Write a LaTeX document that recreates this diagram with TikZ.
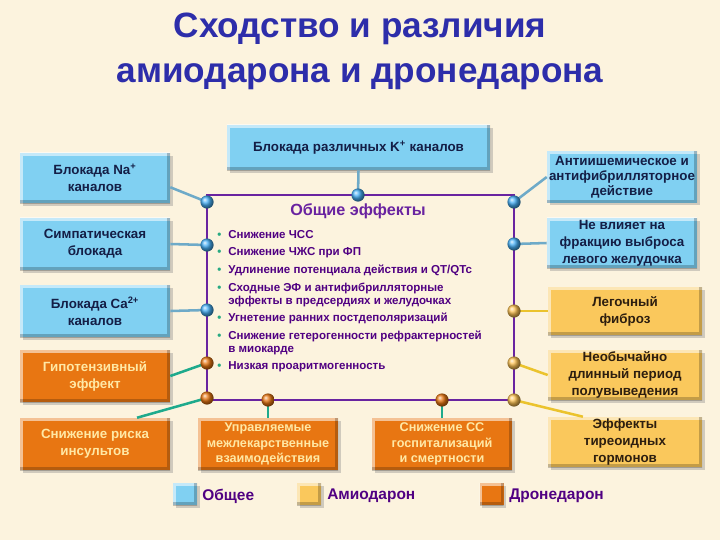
\documentclass[tikz,border=0pt]{standalone}
\usepackage{fontspec}
\setmainfont{Liberation Sans}
\usetikzlibrary{shadows}

\definecolor{bg}{RGB}{252,243,222}
\definecolor{titleblue}{RGB}{45,45,170}
\definecolor{boxblue}{RGB}{128,208,242}
\definecolor{boxorange}{RGB}{232,118,18}
\definecolor{boxamber}{RGB}{250,200,92}
\definecolor{dotblue}{RGB}{70,175,245}
\definecolor{txtnavy}{RGB}{20,30,70}
\definecolor{txtcream}{RGB}{255,232,165}
\definecolor{txtbrown}{RGB}{45,30,15}
\definecolor{txtpurple}{RGB}{80,0,130}
\definecolor{framepurple}{RGB}{105,35,160}
\definecolor{lnblue}{RGB}{110,170,200}
\definecolor{lnteal}{RGB}{30,170,140}
\definecolor{lnamber}{RGB}{235,195,45}
\definecolor{bulgreen}{RGB}{40,170,130}

\newcommand\effbul{\textcolor{bulgreen}{\textbullet}}

\tikzset{
  bevel/.style={path picture={
    \draw[white,opacity=.55,line width=4pt] (path picture bounding box.south west) -- (path picture bounding box.north west) -- (path picture bounding box.north east);
    \draw[black,opacity=.22,line width=4pt] (path picture bounding box.north east) -- (path picture bounding box.south east) -- (path picture bounding box.south west);}},
  box/.style={rectangle, bevel, inner sep=1pt, minimum width=3.75cm, minimum height=1.3cm, align=center,
    font=\fontsize{9.5}{12}\selectfont\bfseries, drop shadow={opacity=.35, shadow xshift=2pt, shadow yshift=-2pt}},
  bluebox/.style={box, fill=boxblue, text=txtnavy},
  orangebox/.style={box, fill=boxorange, text=txtcream},
  amberbox/.style={box, fill=boxamber, text=txtbrown},
  dot/.style={circle, minimum size=0.33cm, inner sep=0pt},
  conn/.style={line width=1.8pt}
}

\begin{document}
\begin{tikzpicture}[x=0.025cm, y=-0.025cm]
\useasboundingbox (0,0) rectangle (720,540);
\fill[bg] (0,0) rectangle (720,540);

\node[align=center, text=titleblue, font=\fontsize{25}{32}\selectfont\bfseries] (title) at (360,51) {Сходство и различия\\амиодарона и дронедарона};

% central frame
\node[draw=framepurple, line width=0.9pt, minimum width=7.675cm, minimum height=5.125cm] (frame) at (360.5,297.5) {};
\node[text=framepurple, font=\fontsize{11.5}{13}\selectfont\bfseries] (common) at (358,211) {Общие эффекты};
\node[anchor=north west, inner sep=0pt, text=txtpurple, font=\fontsize{8.2}{9.2}\selectfont\bfseries] (effects) at (217,229) {%
\begin{tabular}{@{}c@{\hspace{5pt}}l@{}}
\effbul & Снижение ЧСС\\[3.3pt]
\effbul & Снижение ЧЖС при ФП\\[3.3pt]
\effbul & Удлинение потенциала действия и QT/QTc\\[3.3pt]
\effbul & Сходные ЭФ и антифибрилляторные\\
        & эффекты в предсердиях и желудочках\\[3.3pt]
\effbul & Угнетение ранних постдеполяризаций\\[3.3pt]
\effbul & Снижение гетерогенности рефрактерностей\\
        & в миокарде\\[3.3pt]
\effbul & Низкая проаритмогенность
\end{tabular}};

% boxes
\node[bluebox, minimum width=6.575cm, minimum height=1.125cm] (kbox) at (358.5,147.5) {Блокада различных K\textsuperscript{+} каналов};
\node[bluebox, minimum height=1.25cm] (na) at (95,178) {Блокада Na\textsuperscript{+}\\каналов};
\node[bluebox] (symp) at (95,244) {Симпатическая\\блокада};
\node[bluebox] (ca) at (95,311) {Блокада Ca\textsuperscript{2+}\\каналов};
\node[orangebox] (hypo) at (95,376) {Гипотензивный\\эффект};
\node[orangebox] (stroke) at (95,444) {Снижение риска\\инсультов};
\node[orangebox, minimum width=3.5cm, font=\fontsize{9}{11}\selectfont\bfseries] (drugs) at (268,444) {Управляемые\\межлекарственные\\взаимодействия};
\node[orangebox, minimum width=3.5cm, font=\fontsize{9}{11}\selectfont\bfseries] (mort) at (442,444) {Снижение СС\\госпитализаций\\и смертности};
\node[bluebox, minimum height=1.275cm, font=\fontsize{9.5}{10.8}\selectfont\bfseries] (antis) at (622,177) {Антиишемическое и\\антифибрилляторное\\действие};
\node[bluebox, minimum height=1.25cm] (lvef) at (622,243) {Не влияет на\\фракцию выброса\\левого желудочка};
\node[amberbox, minimum width=3.85cm, minimum height=1.2cm] (lung) at (625,311) {Легочный\\фиброз};
\node[amberbox, minimum width=3.85cm, minimum height=1.25cm] (halflife) at (625,375) {Необычайно\\длинный период\\полувыведения};
\node[amberbox, minimum width=3.85cm, minimum height=1.25cm] (thyroid) at (625,442) {Эффекты\\тиреоидных\\гормонов};

% connection points on the frame
\coordinate (pK) at (358,195);
\coordinate (pNa) at (207,202);
\coordinate (pSym) at (207,245);
\coordinate (pCa) at (207,310);
\coordinate (pHyp) at (207,363);
\coordinate (pStr) at (207,398);
\coordinate (pDrg) at (268,400);
\coordinate (pMrt) at (442,400);
\coordinate (pAnt) at (514,202);
\coordinate (pLv) at (514,244);
\coordinate (pLng) at (514,311);
\coordinate (pHl) at (514,363);
\coordinate (pThy) at (514,400);

\draw[conn, lnblue] (kbox.south) -- (pK);
\draw[conn, lnblue] (na.-7) -- (pNa);
\draw[conn, lnblue] (symp.east) -- (pSym);
\draw[conn, lnblue] (ca.east) -- (pCa);
\draw[conn, lnblue] (antis.west) -- (pAnt);
\draw[conn, lnblue] (lvef.west) -- (pLv);
\draw[conn, lnteal] (hypo.east) -- (pHyp);
\draw[conn, lnteal] (stroke.32) -- (pStr);
\draw[conn, lnteal] (drugs.north) -- (pDrg);
\draw[conn, lnteal] (mort.north) -- (pMrt);
\draw[conn, lnamber] (lung.west) -- (pLng);
\draw[conn, lnamber] (halflife.west) -- (pHl);
\draw[conn, lnamber] (thyroid.149) -- (pThy);

\foreach \p in {pK,pNa,pSym,pCa,pAnt,pLv} \node[dot, ball color=dotblue] (d\p) at (\p) {};
\foreach \p in {pHyp,pStr,pDrg,pMrt} \node[dot, ball color=boxorange] (d\p) at (\p) {};
\foreach \p in {pLng,pHl,pThy} \node[dot, ball color=boxamber!90!orange] (d\p) at (\p) {};

% legend
\node[bluebox, minimum width=0.6cm, minimum height=0.55cm] (lgBlue) at (185,494) {};
\node[amberbox, minimum width=0.6cm, minimum height=0.55cm] (lgAmber) at (309,494) {};
\node[orangebox, minimum width=0.6cm, minimum height=0.55cm] (lgOrange) at (491.5,494) {};
\node[anchor=west, inner sep=0pt, text=txtpurple, font=\fontsize{11}{13}\selectfont\bfseries] (lgBlueTxt) at (202,496) {Общее};
\node[anchor=west, inner sep=0pt, text=txtpurple, font=\fontsize{11}{13}\selectfont\bfseries] (lgAmberTxt) at (327,496) {Амиодарон};
\node[anchor=west, inner sep=0pt, text=txtpurple, font=\fontsize{11}{13}\selectfont\bfseries] (lgOrangeTxt) at (509,496) {Дронедарон};
\end{tikzpicture}
\end{document}
